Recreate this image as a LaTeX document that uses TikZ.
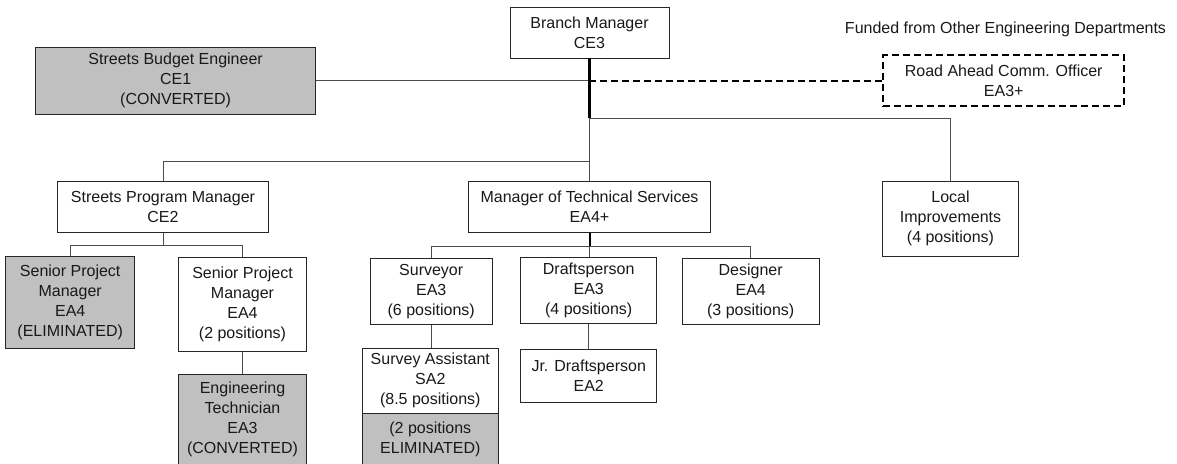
\documentclass[tikz,border=0pt]{standalone}
\usepackage{fontspec}
\setmainfont{Liberation Sans}
\definecolor{gfill}{HTML}{C0C0C0}
\begin{document}
\begin{tikzpicture}[x=1pt,y=-1pt,
  box/.style={draw=black!85, line width=0.9pt, fill=white, inner sep=0pt, align=center,
    font=\fontsize{16}{20}\selectfont, text=black!90},
  gbox/.style={box, fill=gfill},
  dbox/.style={box, draw=black, line width=2pt, dash pattern=on 7pt off 4pt},
  conn/.style={draw=black!70, line width=0.9pt},
  trunk/.style={draw=black, line width=2.2pt},
  dconn/.style={draw=black, line width=2pt, dash pattern=on 7pt off 4pt}]
\useasboundingbox (0,0) rectangle (1177,463);

\node[box, minimum width=159pt, minimum height=51pt] (bm) at (589.5,32.5) {Branch Manager\\CE3};
\node[gbox, minimum width=280pt, minimum height=67pt] (sbe) at (175.6,80.8) {Streets Budget Engineer\\CE1\\(CONVERTED)};
\node[dbox, minimum width=240.7pt, minimum height=51pt] (raco) at (1003.7,80.5) {Road Ahead Comm. Officer\\EA3+};
\node[font=\fontsize{16}{20}\selectfont, text=black!90, inner sep=0pt] (fund) at (1005.5,29.5) {Funded from Other Engineering Departments};

\node[box, minimum width=210.6pt, minimum height=51.3pt] (spm) at (163,206.7) {Streets Program Manager\\CE2};
\node[box, minimum width=241.7pt, minimum height=51.3pt] (mts) at (589.5,206.7) {Manager of Technical Services\\EA4+};
\node[box, minimum width=136.4pt, minimum height=75.7pt] (li) at (950.5,218.8) {Local\\Improvements\\(4 positions)};

\node[gbox, minimum width=129pt, minimum height=92.3pt] (spm1) at (70.2,302.2) {Senior Project\\Manager\\EA4\\(ELIMINATED)};
\node[box, minimum width=128.4pt, minimum height=93.7pt] (spm2) at (242.5,304.2) {Senior Project\\Manager\\EA4\\(2 positions)};
\node[gbox, minimum width=128.4pt, minimum height=90.7pt] (et) at (242.5,419.65) {Engineering\\Technician\\EA3\\(CONVERTED)};

\node[box, minimum width=122.3pt, minimum height=65.7pt] (sur) at (431.2,291.2) {Surveyor\\EA3\\(6 positions)};
\node[box, minimum width=136pt, minimum height=65.6pt] (dra) at (588.7,290.5) {Draftsperson\\EA3\\(4 positions)};
\node[box, minimum width=136.7pt, minimum height=65.7pt] (des) at (750.7,291.2) {Designer\\EA4\\(3 positions)};
\node[box, minimum width=136pt, minimum height=65pt] (sa) at (430.3,380.8) {Survey Assistant\\SA2\\(8.5 positions)};
\node[gbox, minimum width=136pt, minimum height=51.7pt] (sae) at (430.3,439.15) {(2 positions\\ELIMINATED)};
\node[box, minimum width=136pt, minimum height=53pt] (jr) at (588.7,375.8) {Jr. Draftsperson\\EA2};

% connectors
\draw[dconn] (bm.south) |- (raco.west);
\draw[conn] (sbe.east) -- (sbe.east -| bm.south);
\draw[trunk] (bm.south) -- ++(0,60) coordinate (tk);
\coordinate (j1) at (589.5,161.7);
\draw[conn] (tk) -- (mts.north);
\draw[conn] (tk) -| (li.north);
\draw[conn] (spm.north) |- (j1);
\draw[conn] (spm.south) -- ++(0,12.7) coordinate (j2);
\draw[conn] (spm1.north) |- (j2) -| (spm2.north);
\draw[conn] (spm2.south) -- (et.north);
\draw[trunk, line width=2pt] (mts.south) -- ++(0,13.7) coordinate (j3);
\draw[conn] (sur.north) |- (j3) -| (des.north);
\draw[conn] (j3) -- (j3 |- dra.north);
\draw[conn] (sur.south) -- (sur.south |- sa.north);
\draw[conn] (dra.south) -- (dra.south |- jr.north);
\end{tikzpicture}
\end{document}
